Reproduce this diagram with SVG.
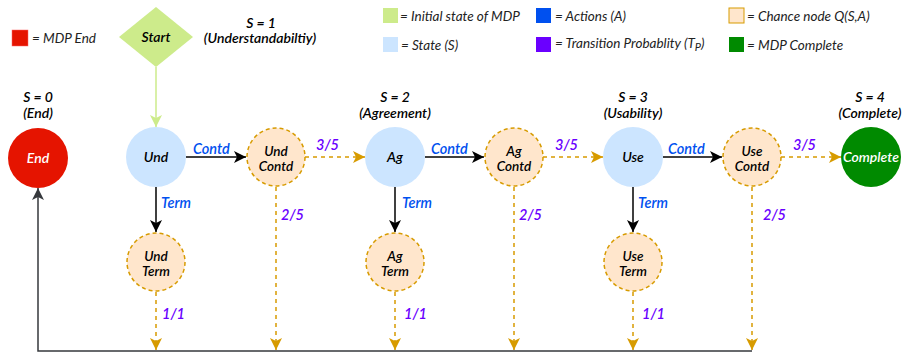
<svg xmlns="http://www.w3.org/2000/svg" width="906" height="354" viewBox="0 0 906 354">
<style>
text{font-family:Lato,"Liberation Sans",sans-serif;font-style:italic}
.nt{font-size:14px;font-weight:600;fill:#000;text-anchor:middle}
.n2{font-size:13.5px;font-weight:600;fill:#000;text-anchor:middle}
.wt{font-size:14px;font-weight:600;fill:#fff;text-anchor:middle}
.st{font-size:14px;font-weight:600;fill:#000;text-anchor:middle}
.lg{font-size:13.5px;fill:#222}
.act{font-size:14.5px;font-weight:600;fill:#0050ef}
.pr{font-size:14.5px;font-weight:600;fill:#6a00ff}
.state{fill:#cce5ff}
.chance{fill:#ffe6cc;stroke:#d79b00;stroke-width:1.5;stroke-dasharray:4 3}
.blk{stroke:#000;stroke-width:1.5;fill:none}
.org{stroke:#d79b00;stroke-width:1.5;fill:none;stroke-dasharray:4 4}
</style>
<defs>
<marker id="ab" viewBox="0 0 12 12" markerWidth="12" markerHeight="12" refX="12" refY="6" orient="auto" markerUnits="userSpaceOnUse"><path d="M0,0 L12,6 L0,12 L3,6 Z" fill="#000"/></marker>
<marker id="ao" viewBox="0 0 12 12" markerWidth="12" markerHeight="12" refX="12" refY="6" orient="auto" markerUnits="userSpaceOnUse"><path d="M0,0 L12,6 L0,12 L3,6 Z" fill="#d79b00"/></marker>
<marker id="ag" viewBox="0 0 12 12" markerWidth="12" markerHeight="12" refX="12" refY="6" orient="auto" markerUnits="userSpaceOnUse"><path d="M0,0 L12,6 L0,12 L3,6 Z" fill="#cdeb8b"/></marker>
<marker id="ad" viewBox="0 0 12 12" markerWidth="12" markerHeight="12" refX="12" refY="6" orient="auto" markerUnits="userSpaceOnUse"><path d="M0,0 L12,6 L0,12 L3,6 Z" fill="#36393d"/></marker>
</defs>
<rect width="906" height="354" fill="#fff"/>

<g id="legend">
<rect x="12" y="30" width="16" height="16" fill="#e51400" stroke="#ff6666" stroke-width="0.5"/>
<text class="lg" x="32" y="43">= MDP End</text>
<rect x="383" y="8" width="15" height="15" fill="#cdeb8b"/>
<text class="lg" x="400" y="21">= Initial state of MDP</text>
<rect x="383" y="37" width="15" height="15" fill="#cce5ff"/>
<text class="lg" x="401" y="50">= State (S)</text>
<rect x="536" y="8" width="15" height="15" fill="#0050ef"/>
<text class="lg" x="555" y="21">= Actions (A)</text>
<rect x="536" y="37" width="15" height="15" fill="#6a00ff"/>
<text class="lg" x="555" y="48">= Transition Probablity (T<tspan font-size="11" dy="3">P</tspan><tspan dy="-3">)</tspan></text>
<rect x="729" y="8" width="15" height="15" fill="#ffe6cc" stroke="#d79b00" stroke-width="1"/>
<text class="lg" x="747" y="21">= Chance node Q(S,A)</text>
<rect x="729" y="37" width="15" height="15" fill="#008a00"/>
<text class="lg" x="747" y="50">= MDP Complete</text>
</g>

<g id="state-labels">
<text class="st" x="261" y="27.5">S = 1</text>
<text class="st" x="260" y="43">(Understandabiltiy)</text>
<text class="st" x="38" y="101.5">S = 0</text>
<text class="st" x="38" y="117.5">(End)</text>
<text class="st" x="395" y="101.5">S = 2</text>
<text class="st" x="395" y="117.5">(Agreement)</text>
<text class="st" x="633" y="101.5">S = 3</text>
<text class="st" x="633" y="117.5">(Usability)</text>
<text class="st" x="870" y="101.5">S = 4</text>
<text class="st" x="870" y="117.5">(Complete)</text>
</g>

<g id="connectors">
<line x1="156" y1="67" x2="156" y2="127" stroke="#cdeb8b" stroke-width="1.5" marker-end="url(#ag)"/>
<line class="blk" x1="186" y1="157" x2="246" y2="157" marker-end="url(#ab)"/>
<line class="blk" x1="156" y1="187" x2="156" y2="232" marker-end="url(#ab)"/>
<line class="blk" x1="425" y1="157" x2="484" y2="157" marker-end="url(#ab)"/>
<line class="blk" x1="395" y1="187" x2="395" y2="232" marker-end="url(#ab)"/>
<line class="blk" x1="663" y1="157" x2="722" y2="157" marker-end="url(#ab)"/>
<line class="blk" x1="633" y1="187" x2="633" y2="232" marker-end="url(#ab)"/>
<line class="org" x1="305" y1="157" x2="365" y2="157" marker-end="url(#ao)"/>
<line class="org" x1="543" y1="157" x2="603" y2="157" marker-end="url(#ao)"/>
<line class="org" x1="781" y1="157" x2="841" y2="157" marker-end="url(#ao)"/>
<line class="org" x1="276" y1="187" x2="276" y2="350" marker-end="url(#ao)"/>
<line class="org" x1="514" y1="187" x2="514" y2="350" marker-end="url(#ao)"/>
<line class="org" x1="752" y1="187" x2="752" y2="350" marker-end="url(#ao)"/>
<line class="org" x1="156" y1="292" x2="156" y2="350" marker-end="url(#ao)"/>
<line class="org" x1="395" y1="292" x2="395" y2="350" marker-end="url(#ao)"/>
<line class="org" x1="633" y1="292" x2="633" y2="350" marker-end="url(#ao)"/>
<polyline points="752,351 38,351 38,188" fill="none" stroke="#36393d" stroke-width="1.5" marker-end="url(#ad)"/>
<text class="act" x="193" y="153.5">Contd</text>
<text class="act" x="431" y="153.5">Contd</text>
<text class="act" x="668" y="153.5">Contd</text>
<text class="act" x="161" y="207.5">Term</text>
<text class="act" x="402" y="207.5">Term</text>
<text class="act" x="638" y="207.5">Term</text>
<text class="pr" x="316" y="149.5">3/5</text>
<text class="pr" x="555" y="149.5">3/5</text>
<text class="pr" x="793" y="149.5">3/5</text>
<text class="pr" x="281" y="219.5">2/5</text>
<text class="pr" x="519" y="219.5">2/5</text>
<text class="pr" x="763" y="219.5">2/5</text>
<text class="pr" x="162" y="318.5">1/1</text>
<text class="pr" x="404" y="318.5">1/1</text>
<text class="pr" x="642" y="318.5">1/1</text>
</g>

<g id="start">
<polygon points="156,7 193,37 156,67 119,37" fill="#cdeb8b"/>
<text class="nt" x="156" y="42">Start</text>
</g>
<g id="end">
<circle cx="38" cy="158" r="30" fill="#e51400"/>
<text class="wt" x="38" y="163">End</text>
</g>
<g id="und">
<circle class="state" cx="156" cy="157" r="30"/>
<text class="nt" x="156" y="162">Und</text>
</g>
<g id="und-contd">
<circle class="chance" cx="276" cy="157" r="29"/>
<text class="n2" x="276" y="155.5">Und</text>
<text class="n2" x="276" y="170.5">Contd</text>
</g>
<g id="und-term">
<circle class="chance" cx="156" cy="262" r="29"/>
<text class="n2" x="156" y="260.5">Und</text>
<text class="n2" x="156" y="275.5">Term</text>
</g>
<g id="ag">
<circle class="state" cx="395" cy="157" r="30"/>
<text class="nt" x="395" y="162">Ag</text>
</g>
<g id="ag-contd">
<circle class="chance" cx="514" cy="157" r="29"/>
<text class="n2" x="514" y="155.5">Ag</text>
<text class="n2" x="514" y="170.5">Contd</text>
</g>
<g id="ag-term">
<circle class="chance" cx="395" cy="262" r="29"/>
<text class="n2" x="395" y="260.5">Ag</text>
<text class="n2" x="395" y="275.5">Term</text>
</g>
<g id="use">
<circle class="state" cx="633" cy="157" r="30"/>
<text class="nt" x="633" y="162">Use</text>
</g>
<g id="use-contd">
<circle class="chance" cx="752" cy="157" r="29"/>
<text class="n2" x="752" y="155.5">Use</text>
<text class="n2" x="752" y="170.5">Contd</text>
</g>
<g id="use-term">
<circle class="chance" cx="633" cy="262" r="29"/>
<text class="n2" x="633" y="260.5">Use</text>
<text class="n2" x="633" y="275.5">Term</text>
</g>
<g id="complete">
<circle cx="871" cy="157" r="30" fill="#008a00"/>
<text class="wt" x="871" y="162">Complete</text>
</g>
</svg>
